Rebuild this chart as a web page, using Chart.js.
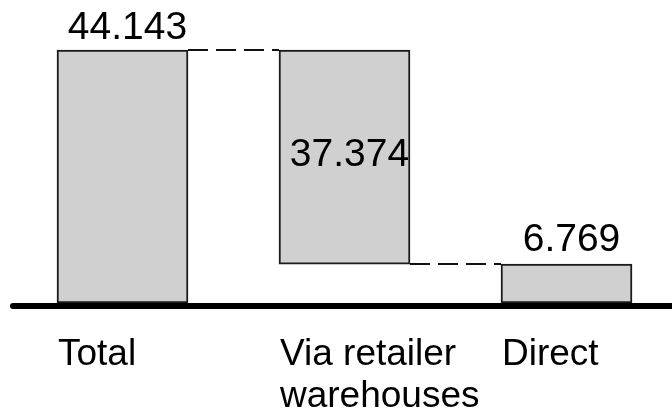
<!DOCTYPE html>
<html>
<head>
<meta charset="utf-8">
<script src="https://cdn.jsdelivr.net/npm/chart.js@4"></script>
<style>
    html, body { margin: 0; padding: 0; background: #fff; }
    #wrap { width: 672px; height: 414px; }
</style>
</head>
<body>
<div id="wrap"><canvas id="waterfallChart" width="672" height="414"></canvas></div>
<script>
// categories and values
var categories = [['Total'], ['Via retailer', 'warehouses'], ['Direct']];
var valueLabels = ['44.143', '37.374', '6.769'];
var barStarts = [0, 6.769, 0];
var barEnds = [44.143, 44.143, 6.769];

var barData = [];
for (var i = 0; i < categories.length; i++) {
    barData.push({ x: i, y: [barStarts[i], barEnds[i]] });
}

var waterfallPlugin = {
    id: 'waterfall',
    afterDatasetsDraw: function (chart) {
        var ctx = chart.ctx;
        var ys = chart.scales.y;
        var bar = chart.getDatasetMeta(0).data;
        ctx.save();

        // dashed connectors between bars
        ctx.strokeStyle = '#111';
        ctx.lineWidth = 2;
        ctx.setLineDash([20, 8]);
        for (var i = 0; i < bar.length - 1; i++) {
            var level = i === 0 ? barEnds[i] : barStarts[i];
            var py = Math.round(ys.getPixelForValue(level));
            ctx.beginPath();
            ctx.moveTo(bar[i].x + bar[i].width / 2, py);
            ctx.lineTo(bar[i + 1].x - bar[i + 1].width / 2, py);
            ctx.stroke();
        }
        ctx.setLineDash([]);

        // base line
        var zero = ys.getPixelForValue(0);
        ctx.strokeStyle = '#000';
        ctx.lineWidth = 6;
        ctx.lineCap = 'round';
        ctx.beginPath();
        ctx.moveTo(13, zero + 3);
        ctx.lineTo(chart.width + 5, zero + 3);
        ctx.stroke();

        // value labels
        ctx.fillStyle = '#000';
        ctx.font = '39px "Liberation Sans", Arial, sans-serif';
        ctx.textAlign = 'center';
        ctx.textBaseline = 'alphabetic';
        ctx.fillText(valueLabels[0], bar[0].x + 5, ys.getPixelForValue(barEnds[0]) - 11);
        ctx.fillText(valueLabels[1], bar[1].x + 5, (ys.getPixelForValue(barStarts[1]) + ys.getPixelForValue(barEnds[1])) / 2 + 9);
        ctx.fillText(valueLabels[2], bar[2].x + 5, ys.getPixelForValue(barEnds[2]) - 13);

        // category labels, left aligned under each bar
        ctx.font = '37px "Liberation Sans", Arial, sans-serif';
        ctx.textAlign = 'left';
        for (var j = 0; j < categories.length; j++) {
            var left = bar[j].x - bar[j].width / 2 + 1;
            for (var k = 0; k < categories[j].length; k++) {
                ctx.fillText(categories[j][k], left, zero + 62 + k * 42);
            }
        }
        ctx.restore();
    }
};

var waterfallChart = new Chart(document.getElementById('waterfallChart'), {
    type: 'bar',
    data: {
        datasets: [{
            data: barData,
            backgroundColor: '#d0d0d0',
            borderColor: '#1a1a1a',
            borderWidth: 2,
            borderSkipped: false,
            barThickness: 131,
            clip: false
        }]
    },
    options: {
        responsive: false,
        animation: false,
        layout: { padding: { top: 50, bottom: 111, left: 0, right: 0 } },
        plugins: {
            legend: { display: false },
            tooltip: { enabled: false }
        },
        scales: {
            x: {
                type: 'linear',
                display: false,
                offset: false,
                min: -0.5518,
                max: 2.4752
            },
            y: {
                display: false,
                min: 0,
                max: 44.143
            }
        }
    },
    plugins: [waterfallPlugin]
});
</script>
</body>
</html>
